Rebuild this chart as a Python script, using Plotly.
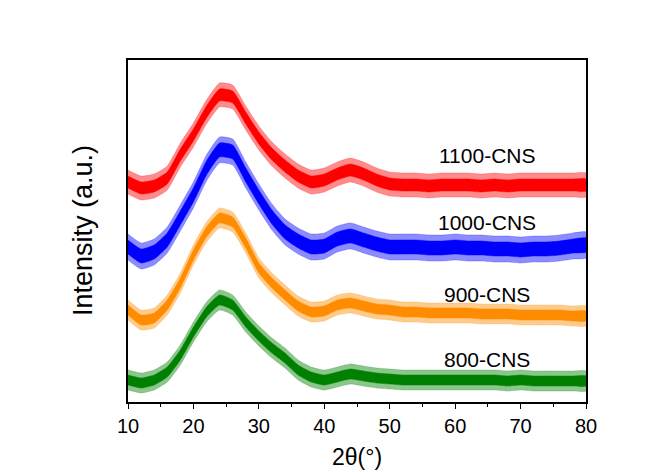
import plotly.graph_objects as go

# 2-theta sample positions (degrees)
two_theta = [10, 12, 14, 16, 18, 20, 22, 24, 26, 28, 30, 32, 34, 36, 38, 40, 42, 44,
             46, 48, 50, 52, 54, 56, 58, 60, 62, 64, 66, 68, 70, 72, 74, 76, 78, 80]

# Stacked intensity (a.u., offset) (centre of the noisy trace)
i_1100 = [220, 214, 216, 224, 247, 267, 290, 307, 305, 284, 264, 248, 236, 226, 220, 222,
          228, 232, 228, 222, 218, 217, 217, 216, 217, 217, 217, 216, 217, 216, 217, 217,
          217, 217, 217, 217]
i_1000 = [155, 146, 150, 162, 184, 207, 234, 252, 250, 227, 205, 185, 170, 161, 155, 156,
          163, 166, 162, 158, 155, 155, 155, 154, 154, 155, 154, 154, 153, 153, 152, 153,
          153, 154, 156, 157]
i_900 = [92, 82, 84, 97, 119, 147, 170, 184, 180, 159, 134, 119, 107, 96, 90, 91,
         97, 99, 96, 93, 92, 90, 90, 89, 89, 89, 89, 88, 88, 88, 87, 87,
         87, 87, 86, 86]
i_800 = [22, 19, 22, 30, 47, 70, 90, 102, 97, 80, 66, 54, 44, 32, 25, 22,
         25, 28, 26, 24, 23, 22, 22, 22, 22, 22, 22, 22, 22, 21, 22, 21,
         21, 21, 21, 21]

# half-thickness of the dense noise core and of the sparse noise spikes (a.u.)
core_half = [6, 7, 5, 5]
spike_half = [12, 13, 10, 10]

series_names = ["1100-CNS", "1000-CNS", "900-CNS", "800-CNS"]
series_vals = [i_1100, i_1000, i_900, i_800]
series_colors = ["#FF0000", "#0000FF", "#FF8C00", "#008000"]
series_soft = ["rgba(255,0,0,0.45)", "rgba(0,0,255,0.45)",
               "rgba(255,140,0,0.45)", "rgba(0,128,0,0.45)"]
label_x = [64.9, 64.9, 64.9, 64.9]
label_y = [247, 180, 108, 43]

fig = go.Figure()
for name, vals, col, soft, hc, hs in zip(series_names, series_vals, series_colors,
                                          series_soft, core_half, spike_half):
    for h, fc in ((hs, soft), (hc, col)):
        upper = [v + h for v in vals]
        lower = [v - h for v in vals]
        fig.add_trace(go.Scatter(
            x=two_theta + two_theta[::-1], y=upper + lower[::-1],
            mode="lines", line=dict(color=fc, width=0.5, shape="spline", smoothing=0.5),
            fill="toself", fillcolor=fc, name=name, showlegend=False, hoverinfo="skip"))

for name, lx, ly in zip(series_names, label_x, label_y):
    fig.add_annotation(x=lx, y=ly, text=name, showarrow=False,
                       font=dict(size=21, color="black"), xanchor="center", yanchor="middle")

fig.add_annotation(xref="paper", yref="paper", x=-0.098, y=0.5, text="Intensity (a.u.)",
                   textangle=-90, showarrow=False, font=dict(size=27, color="black"),
                   xanchor="center", yanchor="middle")
fig.add_annotation(xref="paper", yref="paper", x=0.5, y=-0.162, text="2θ(°)",
                   showarrow=False, font=dict(size=23, color="black"),
                   xanchor="center", yanchor="middle")

fig.update_layout(
    width=665, height=472,
    margin=dict(l=128, r=79, t=60, b=70),
    paper_bgcolor="white", plot_bgcolor="white",
    font=dict(family="Arial, Liberation Sans, sans-serif", color="black"),
    xaxis=dict(range=[10, 80], tickvals=[10, 20, 30, 40, 50, 60, 70, 80],
               ticks="outside", ticklen=5, tickwidth=1.2, tickcolor="black",
               minor=dict(dtick=5, tick0=10, ticks="outside", ticklen=3, tickcolor="black"),
               showline=True, linecolor="black", linewidth=1.5, mirror=True,
               showgrid=False, zeroline=False, tickfont=dict(size=20)),
    yaxis=dict(range=[0, 342], showticklabels=False, ticks="",
               showline=True, linecolor="black", linewidth=1.5, mirror=True,
               showgrid=False, zeroline=False),
)

fig.write_html("out.html")
